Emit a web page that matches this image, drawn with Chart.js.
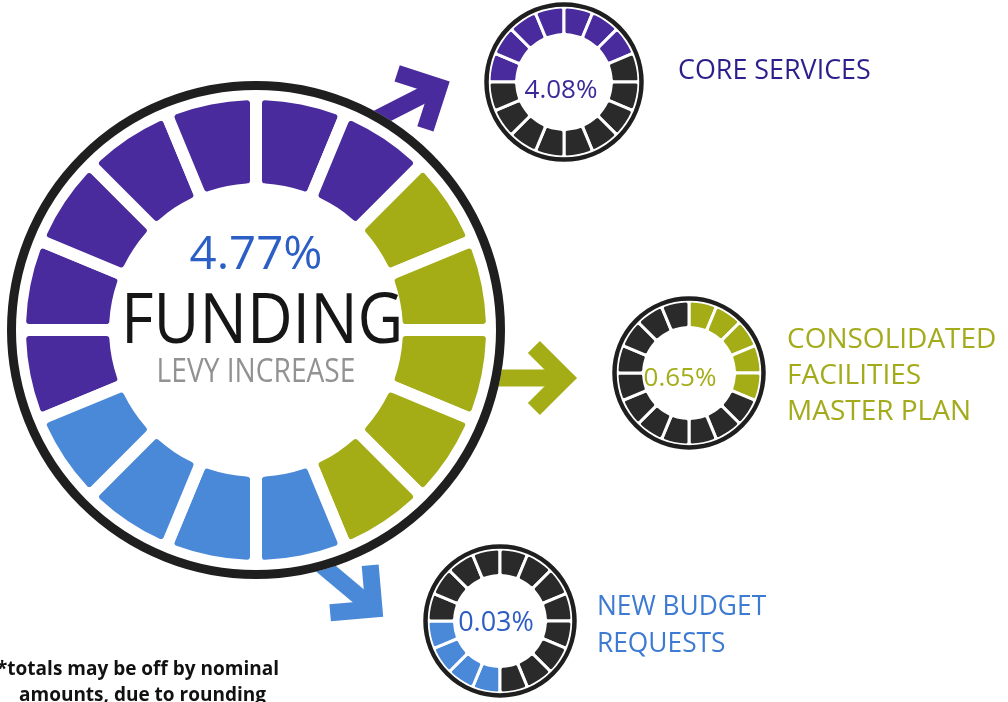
<!DOCTYPE html>
<html>
<head>
<meta charset="utf-8">
<script src="https://cdn.jsdelivr.net/npm/chart.js@4.4.3/dist/chart.umd.min.js"></script>
<style>
  body { margin: 0; background: #fff; }
  #page { position: relative; width: 1008px; height: 702px; overflow: hidden; font-family: "Open Sans", sans-serif; }
  canvas { position: absolute; }
  .txt { position: absolute; white-space: nowrap; }
  .mid { text-align: center; }
</style>
</head>
<body>
<div id="page">
  <canvas id="main" width="1008" height="702" style="left:0;top:0"></canvas>
  <canvas id="c0" width="170" height="170" style="left:479px;top:-3px"></canvas>
  <canvas id="c1" width="170" height="170" style="left:604px;top:288px"></canvas>
  <canvas id="c2" width="170" height="170" style="left:415px;top:536px"></canvas>

  <div class="txt mid" style="left:156px;top:228px;width:200px;font-size:46px;line-height:46px;color:#2b5fc6;transform:scaleX(1.03)">4.77%</div>
  <div class="txt mid" style="left:106px;top:281px;width:300px;font-size:70px;line-height:70px;color:#161616;transform:scaleX(0.9)">FUNDING</div>
  <div class="txt mid" style="left:126px;top:354px;width:260px;font-size:32px;line-height:32px;color:#929292;transform:scaleX(0.88)">LEVY INCREASE</div>

  <div id="p0" class="txt mid" style="left:511px;top:75px;width:100px;font-size:26px;line-height:26px"></div>
  <div id="p1" class="txt mid" style="left:630px;top:363px;width:100px;font-size:26px;line-height:26px"></div>
  <div id="p2" class="txt mid" style="left:446px;top:607px;width:100px;font-size:27px;line-height:27px"></div>

  <div id="l0" class="txt" style="left:678px;top:50px;font-size:28px;line-height:36px;transform:scaleX(0.96);transform-origin:left center"></div>
  <div id="l1" class="txt" style="left:787px;top:319px;font-size:28px;line-height:36px"></div>
  <div id="l2" class="txt" style="left:597px;top:586px;font-size:28px;line-height:37px;transform:scaleX(0.94);transform-origin:left center"></div>

  <div class="txt" style="left:-3px;top:655px;font-size:19px;line-height:26px;font-weight:bold;color:#111">*totals may be off by nominal<br><span style="margin-left:22px">amounts, due to rounding</span></div>
</div>
<script>
// data
const categories = ["CORE SERVICES", ["CONSOLIDATED", "FACILITIES", "MASTER PLAN"], ["NEW BUDGET", "REQUESTS"]];
const shares = [4.08, 0.65, 0.03];
const totalIncrease = 4.77;
const segmentCount = 16;
const litSegments = [7, 5, 4];          // segments lit per category
const mainRotation = -112.5;            // main ring starts at the first core segment
const smallRotation = [-90, 0, 180];

const colors = ["#4a2b9d", "#a4ac16", "#4a89d8"];
const textColors = ["#2c1f8c", "#a3ab1b", "#3d7bd2"];
const pctColors = ["#3b2a98", "#a4ad1a", "#2d5cc2"];
const offColor = "#2a2a2a";

// ring plugin: black outer circle, white disc + arrows underneath
const ringPlugin = {
  id: "ring",
  beforeDatasetsDraw(chart, args, opts) {
    const arc = chart.getDatasetMeta(0).data[0];
    const ctx = chart.ctx;
    ctx.save();
    if (opts.arrows) {
      ctx.lineWidth = 17;
      ctx.lineCap = "butt";
      ctx.lineJoin = "miter";
      opts.arrows.forEach(a => {
        const r = a.ang * Math.PI / 180;
        const dx = Math.cos(r), dy = Math.sin(r);
        ctx.strokeStyle = a.color;
        ctx.beginPath();
        ctx.moveTo(a.x - dx * a.len, a.y - dy * a.len);
        ctx.lineTo(a.x, a.y);
        ctx.stroke();
        const b1 = r + Math.PI * 0.75, b2 = r - Math.PI * 0.75;
        ctx.beginPath();
        ctx.moveTo(a.x + Math.cos(b1) * 44, a.y + Math.sin(b1) * 44);
        ctx.lineTo(a.x, a.y);
        ctx.lineTo(a.x + Math.cos(b2) * 44, a.y + Math.sin(b2) * 44);
        ctx.stroke();
      });
    }
    ctx.fillStyle = "#fff";
    ctx.beginPath();
    ctx.arc(arc.x, arc.y, opts.r + opts.w / 2, 0, Math.PI * 2);
    ctx.fill();
    ctx.restore();
  },
  afterDatasetsDraw(chart, args, opts) {
    const arc = chart.getDatasetMeta(0).data[0];
    const ctx = chart.ctx;
    ctx.save();
    ctx.strokeStyle = "#1f1f1f";
    ctx.lineWidth = opts.w;
    ctx.beginPath();
    ctx.arc(arc.x, arc.y, opts.r, 0, Math.PI * 2);
    ctx.stroke();
    ctx.restore();
  }
};

function ringColors(lit) {
  const out = [];
  lit.forEach(p => { for (let i = 0; i < p[0]; i++) out.push(p[1]); });
  while (out.length < segmentCount) out.push(offColor);
  return out;
}

function makeRing(id, bg, rotation, radius, cutout, border, bRadius, ringOpts, padding) {
  return new Chart(document.getElementById(id), {
    type: "doughnut",
    data: {
      labels: bg.map((c, i) => "segment " + (i + 1)),
      datasets: [{
        data: bg.map(() => 1),
        backgroundColor: bg,
        borderColor: "#ffffff",
        borderWidth: border,
        borderRadius: bRadius,
        hoverOffset: 0
      }]
    },
    options: {
      responsive: false,
      animation: false,
      events: [],
      rotation: rotation,
      radius: radius,
      cutout: cutout,
      layout: { padding: padding || 0 },
      plugins: { legend: { display: false }, tooltip: { enabled: false }, ring: ringOpts }
    },
    plugins: [ringPlugin]
  });
}

// main ring
const mainBg = ringColors(litSegments.map((n, i) => [n, colors[i]]));
makeRing("main", mainBg, mainRotation, 236, "59.7%", 12, 9,
  {
    r: 244.5, w: 9,
    arrows: [
      { x: 439, y: 87, ang: -27, len: 130, color: colors[0] },
      { x: 565, y: 378, ang: 0, len: 90, color: colors[1] },
      { x: 374, y: 609, ang: 40, len: 120, color: colors[2] }
    ]
  },
  { left: 0, top: 74, right: 1008 - 512, bottom: 702 - 586 });

// small rings
const smallRing = [{ r: 77.5, w: 4.5 }, { r: 74.5, w: 4.5 }, { r: 74.5, w: 4.5 }];
const smallRadius = [75, 72, 72];
shares.forEach((s, i) => {
  const bg = ringColors([[litSegments[i], colors[i]]]);
  makeRing("c" + i, bg, smallRotation[i], smallRadius[i], "63%", 3, 3, smallRing[i]);
  const p = document.getElementById("p" + i);
  p.textContent = s.toFixed(2) + "%";
  p.style.color = pctColors[i];
  const l = document.getElementById("l" + i);
  const lines = Array.isArray(categories[i]) ? categories[i] : [categories[i]];
  l.innerHTML = lines.join("<br>");
  l.style.color = textColors[i];
});
</script>
</body>
</html>
